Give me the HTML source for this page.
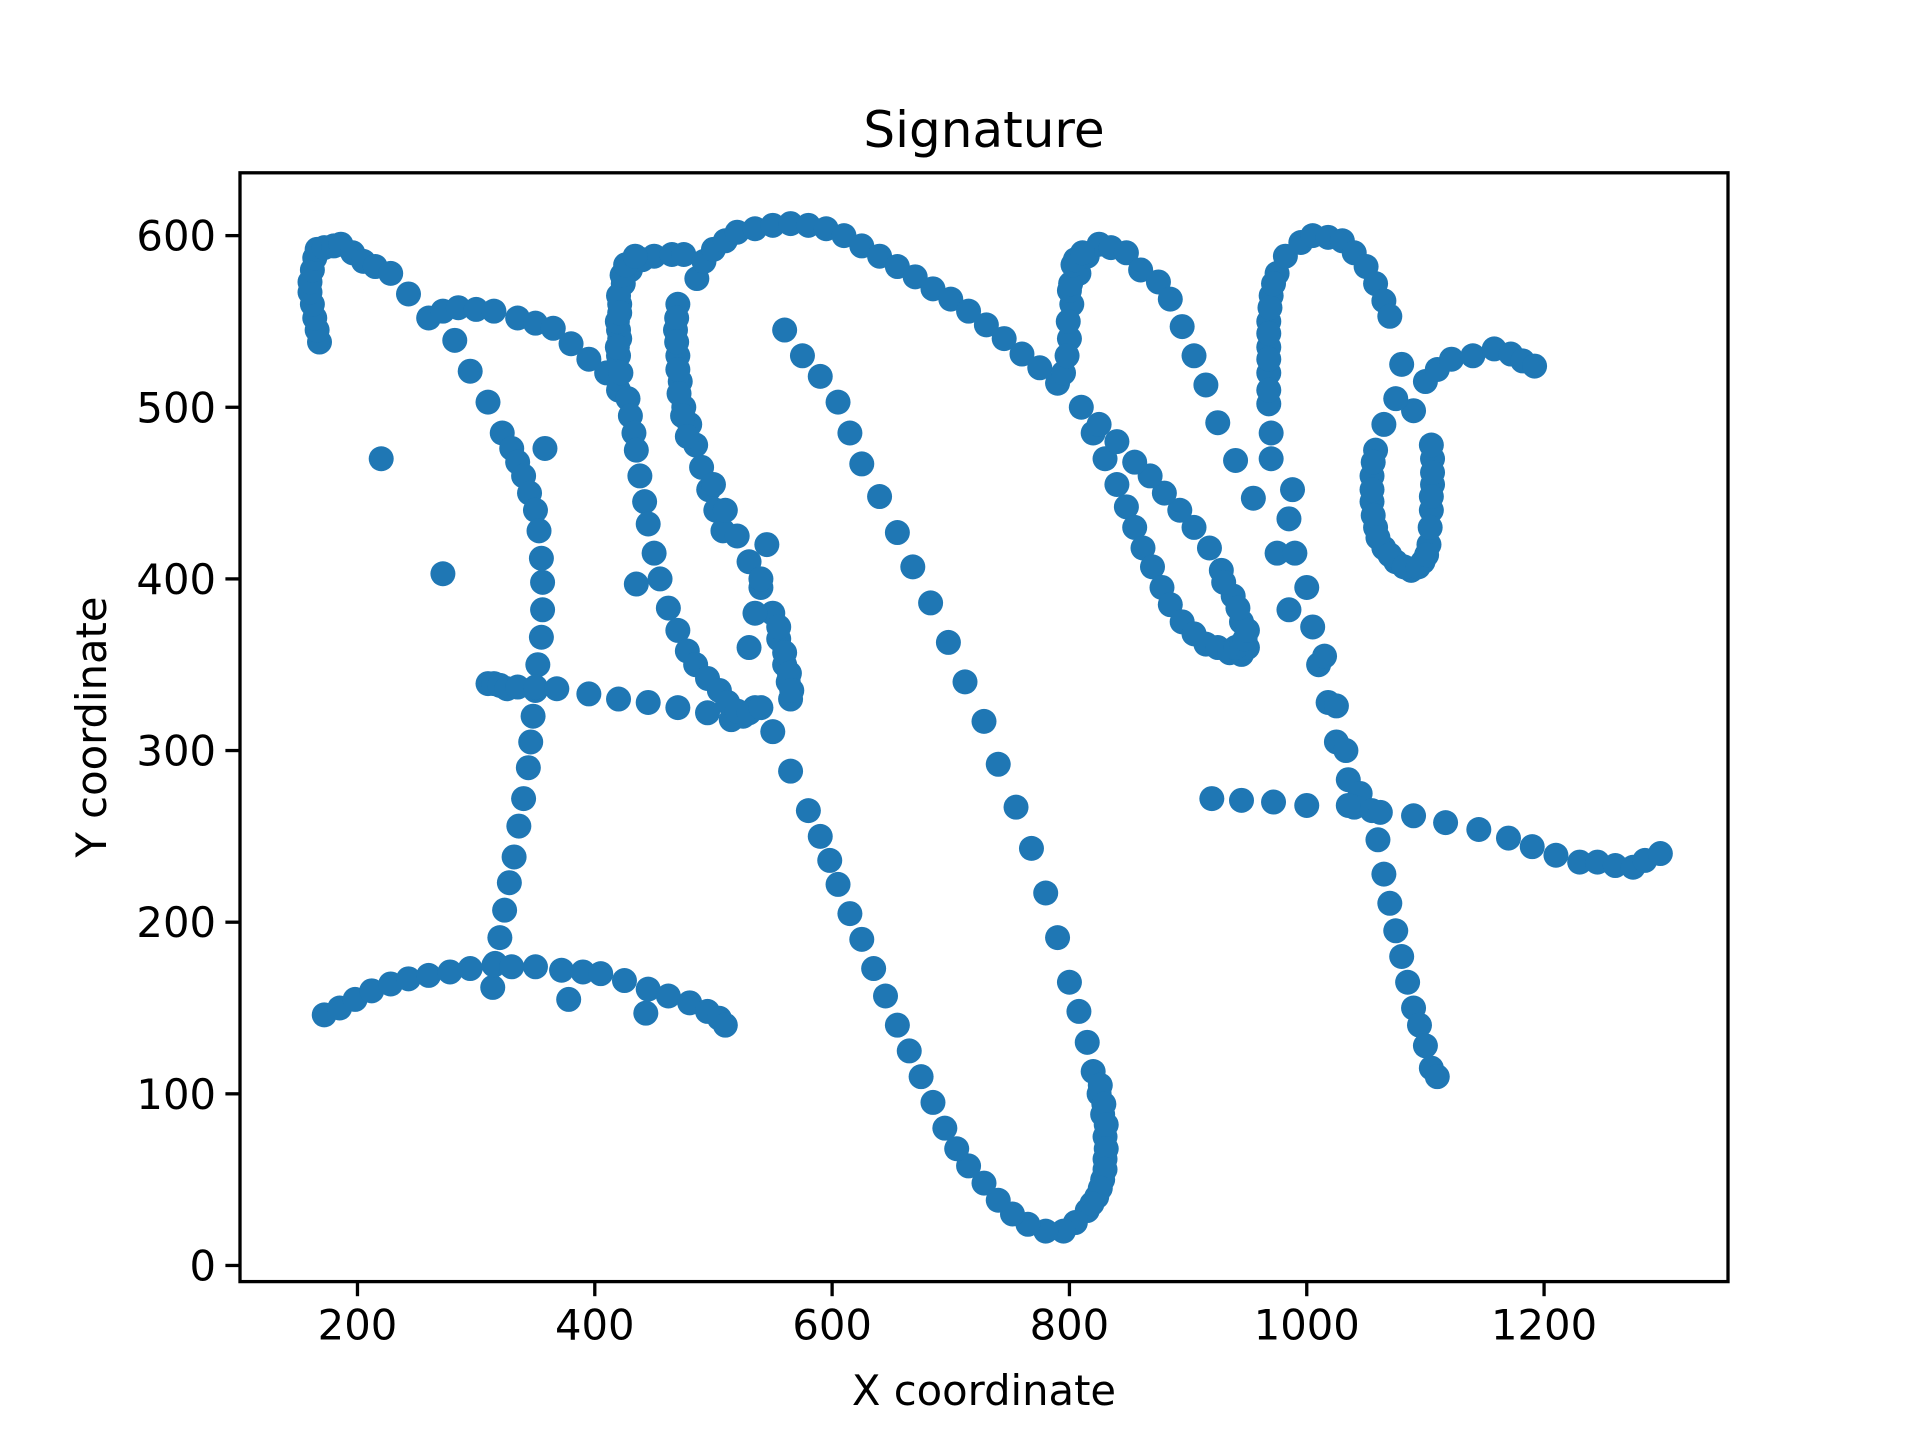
<!DOCTYPE html>
<html><head><meta charset="utf-8"><style>
body{margin:0;background:#fff;}
svg{display:block;font-family:"DejaVu Sans","Liberation Sans",sans-serif;}
</style></head><body>
<svg id="chart" width="1920" height="1440" viewBox="0 0 1920 1440" xmlns="http://www.w3.org/2000/svg">
<rect width="1920" height="1440" fill="#fff"/>
<g id="pts"></g>
<rect x="240" y="172.8" width="1488" height="1108.8" fill="none" stroke="#000" stroke-width="3.3"/>
<g id="xt"></g>
<g id="yt"></g>
<text x="984" y="147" font-size="50" text-anchor="middle">Signature</text>
<text x="984" y="1405" font-size="41.7" text-anchor="middle">X coordinate</text>
<text x="0" y="0" font-size="41.7" text-anchor="middle" transform="translate(106,727) rotate(-90)">Y coordinate</text>
</svg>
<script>
const xTicks=[200,400,600,800,1000,1200];
const yTicks=[0,100,200,300,400,500,600];
const xs=[168,166,164,162,160,160,162,164,166,172,180,186,196,205,215,228,243,260,272,285,300,315,335,350,365,380,395,410,420,
282,295,310,322,330,335,340,345,350,353,355,356,356,355,352,350,348,346,344,340,336,332,328,324,320,316,314,
220,272,358,378,443,435,
310,315,320,326,335,350,368,395,420,445,470,495,515,525,535,
172,185,198,212,228,243,260,278,295,315,330,350,372,390,405,425,445,462,480,495,505,510,
428,430,433,435,438,442,445,450,455,462,470,478,485,495,505,512,520,530,
420,420,421,421,422,424,430,440,450,465,475,419,419,420,421,423,426,434,
470,468,470,472,475,480,485,490,496,502,508,469,469,470,471,474,478,
486,492,500,510,520,535,550,565,580,595,610,625,640,655,670,685,700,715,730,745,760,775,790,
500,510,520,530,540,550,555,560,563,565,545,540,535,530,555,560,564,566,
560,575,590,605,615,625,640,655,668,683,698,712,728,740,755,768,780,790,800,808,815,820,825,828,830,830,828,823,815,805,795,780,765,752,740,728,715,705,695,685,675,665,655,645,635,625,615,605,598,590,580,565,550,540,
826,829,831,831,830,826,819,
795,800,802,808,815,825,835,848,860,875,885,895,905,915,925,940,955,
798,799,800,801,803,805,811,
810,820,830,840,848,855,862,870,878,885,895,905,915,925,935,945,950,945,938,928,918,905,893,880,868,855,840,825,
940,945,948,950,942,930,
920,945,972,1000,
975,985,988,970,970,968,968,968,968,970,975,982,995,1005,1018,1030,1040,1050,1058,1065,1070,
968,968,968,969,972,
990,985,1000,1005,1010,1015,1018,1025,1025,1033,1035,1045,1040,1055,1060,1065,1070,1075,1080,1085,1090,1095,1100,1105,1110,
1035,1062,1090,1117,1145,1170,1190,1210,1230,1245,1260,1275,1285,1298,
1080,1090,1075,1065,1058,1055,1055,1058,1065,1075,1088,1098,1103,1105,1106,1106,1100,1110,1122,1140,1158,1172,1182,1192,
1056,1055,1056,1060,1070,1082,1094,1101,1104,1105,1106,1105];
const ys=[538,545,552,560,567,573,580,587,592,593,594,595,590,585,582,578,566,552,556,558,557,556,552,549,546,537,528,520,510,
539,521,503,485,476,468,460,450,440,428,412,398,382,366,350,335,320,305,290,272,256,238,223,207,191,176,162,
470,403,476,155,147,397,
339,339,338,336,337,337,336,333,330,328,325,322,318,320,325,
146,150,155,160,164,167,169,171,173,175,174,174,172,171,170,166,161,157,153,148,144,140,
505,495,485,475,460,445,432,415,400,383,370,358,350,342,335,328,323,322,
530,545,560,540,520,572,580,586,588,589,589,535,550,565,555,577,583,588,
560,545,530,515,500,490,478,465,452,440,428,552,538,522,508,495,483,
575,585,592,597,602,604,606,607,606,604,600,594,588,582,576,569,563,556,548,540,531,523,514,
455,440,425,410,395,380,365,350,340,330,420,400,380,360,372,357,345,335,
545,530,518,503,485,467,448,427,407,386,363,340,317,292,267,243,217,191,165,148,130,113,100,88,75,62,50,40,32,25,20,20,24,30,38,48,58,68,80,95,110,125,140,157,173,190,205,222,236,250,265,288,311,325,
105,94,82,68,56,45,36,
520,540,560,578,588,595,593,590,580,573,563,547,530,513,491,469,447,
530,550,568,572,583,586,590,
500,485,470,455,442,430,418,407,395,385,375,368,362,360,357,356,360,375,390,405,418,430,440,450,460,468,480,490,
360,362,365,370,383,398,
272,271,270,268,
415,435,452,470,485,502,520,535,550,565,578,588,596,600,599,597,590,582,572,562,553,
510,528,543,558,572,
415,382,395,372,350,355,328,326,305,300,283,275,267,265,248,228,211,195,180,165,150,140,128,115,110,
268,264,262,258,254,249,244,239,235,235,233,232,236,240,
525,498,505,490,475,460,445,430,418,410,405,410,420,440,455,470,515,522,528,530,534,531,527,524,
468,452,437,424,414,407,407,414,430,448,462,478];
const X0=101,X1=1355,Y0=-9.4,Y1=636.6,L=240,R=1728,T=172.8,B=1281.6;
const sx=v=>L+(v-X0)/(X1-X0)*(R-L);
const sy=v=>B-(v-Y0)/(Y1-Y0)*(B-T);
const NS="http://www.w3.org/2000/svg";
const pts=document.getElementById('pts');
for(let i=0;i<xs.length;i++){
  const c=document.createElementNS(NS,'circle');
  c.setAttribute('cx',sx(xs[i]));c.setAttribute('cy',sy(ys[i]));c.setAttribute('r',12.5);c.setAttribute('fill','#1f77b4');
  
  
  pts.appendChild(c);
}
const xt=document.getElementById('xt');
xTicks.forEach(t=>{
  const l=document.createElementNS(NS,'line');
  l.setAttribute('x1',sx(t));l.setAttribute('x2',sx(t));l.setAttribute('y1',B);l.setAttribute('y2',B+14.6);l.setAttribute('stroke','#000');l.setAttribute('stroke-width',3.3);
  
  
  xt.appendChild(l);
  const s=document.createElementNS(NS,'text');
  s.setAttribute('x',sx(t));s.setAttribute('y',B+58);s.setAttribute('font-size',41.7);s.setAttribute('text-anchor','middle');s.textContent=t;
  
  
  xt.appendChild(s);
});
const yt=document.getElementById('yt');
yTicks.forEach(t=>{
  const l=document.createElementNS(NS,'line');
  l.setAttribute('x1',L-14.6);l.setAttribute('x2',L);l.setAttribute('y1',sy(t));l.setAttribute('y2',sy(t));l.setAttribute('stroke','#000');l.setAttribute('stroke-width',3.3);
  
  
  yt.appendChild(l);
  const s=document.createElementNS(NS,'text');
  s.setAttribute('x',L-24);s.setAttribute('y',sy(t)+15);s.setAttribute('font-size',41.7);s.setAttribute('text-anchor','end');s.textContent=t;
  
  
  yt.appendChild(s);
});
</script>
</body></html>
